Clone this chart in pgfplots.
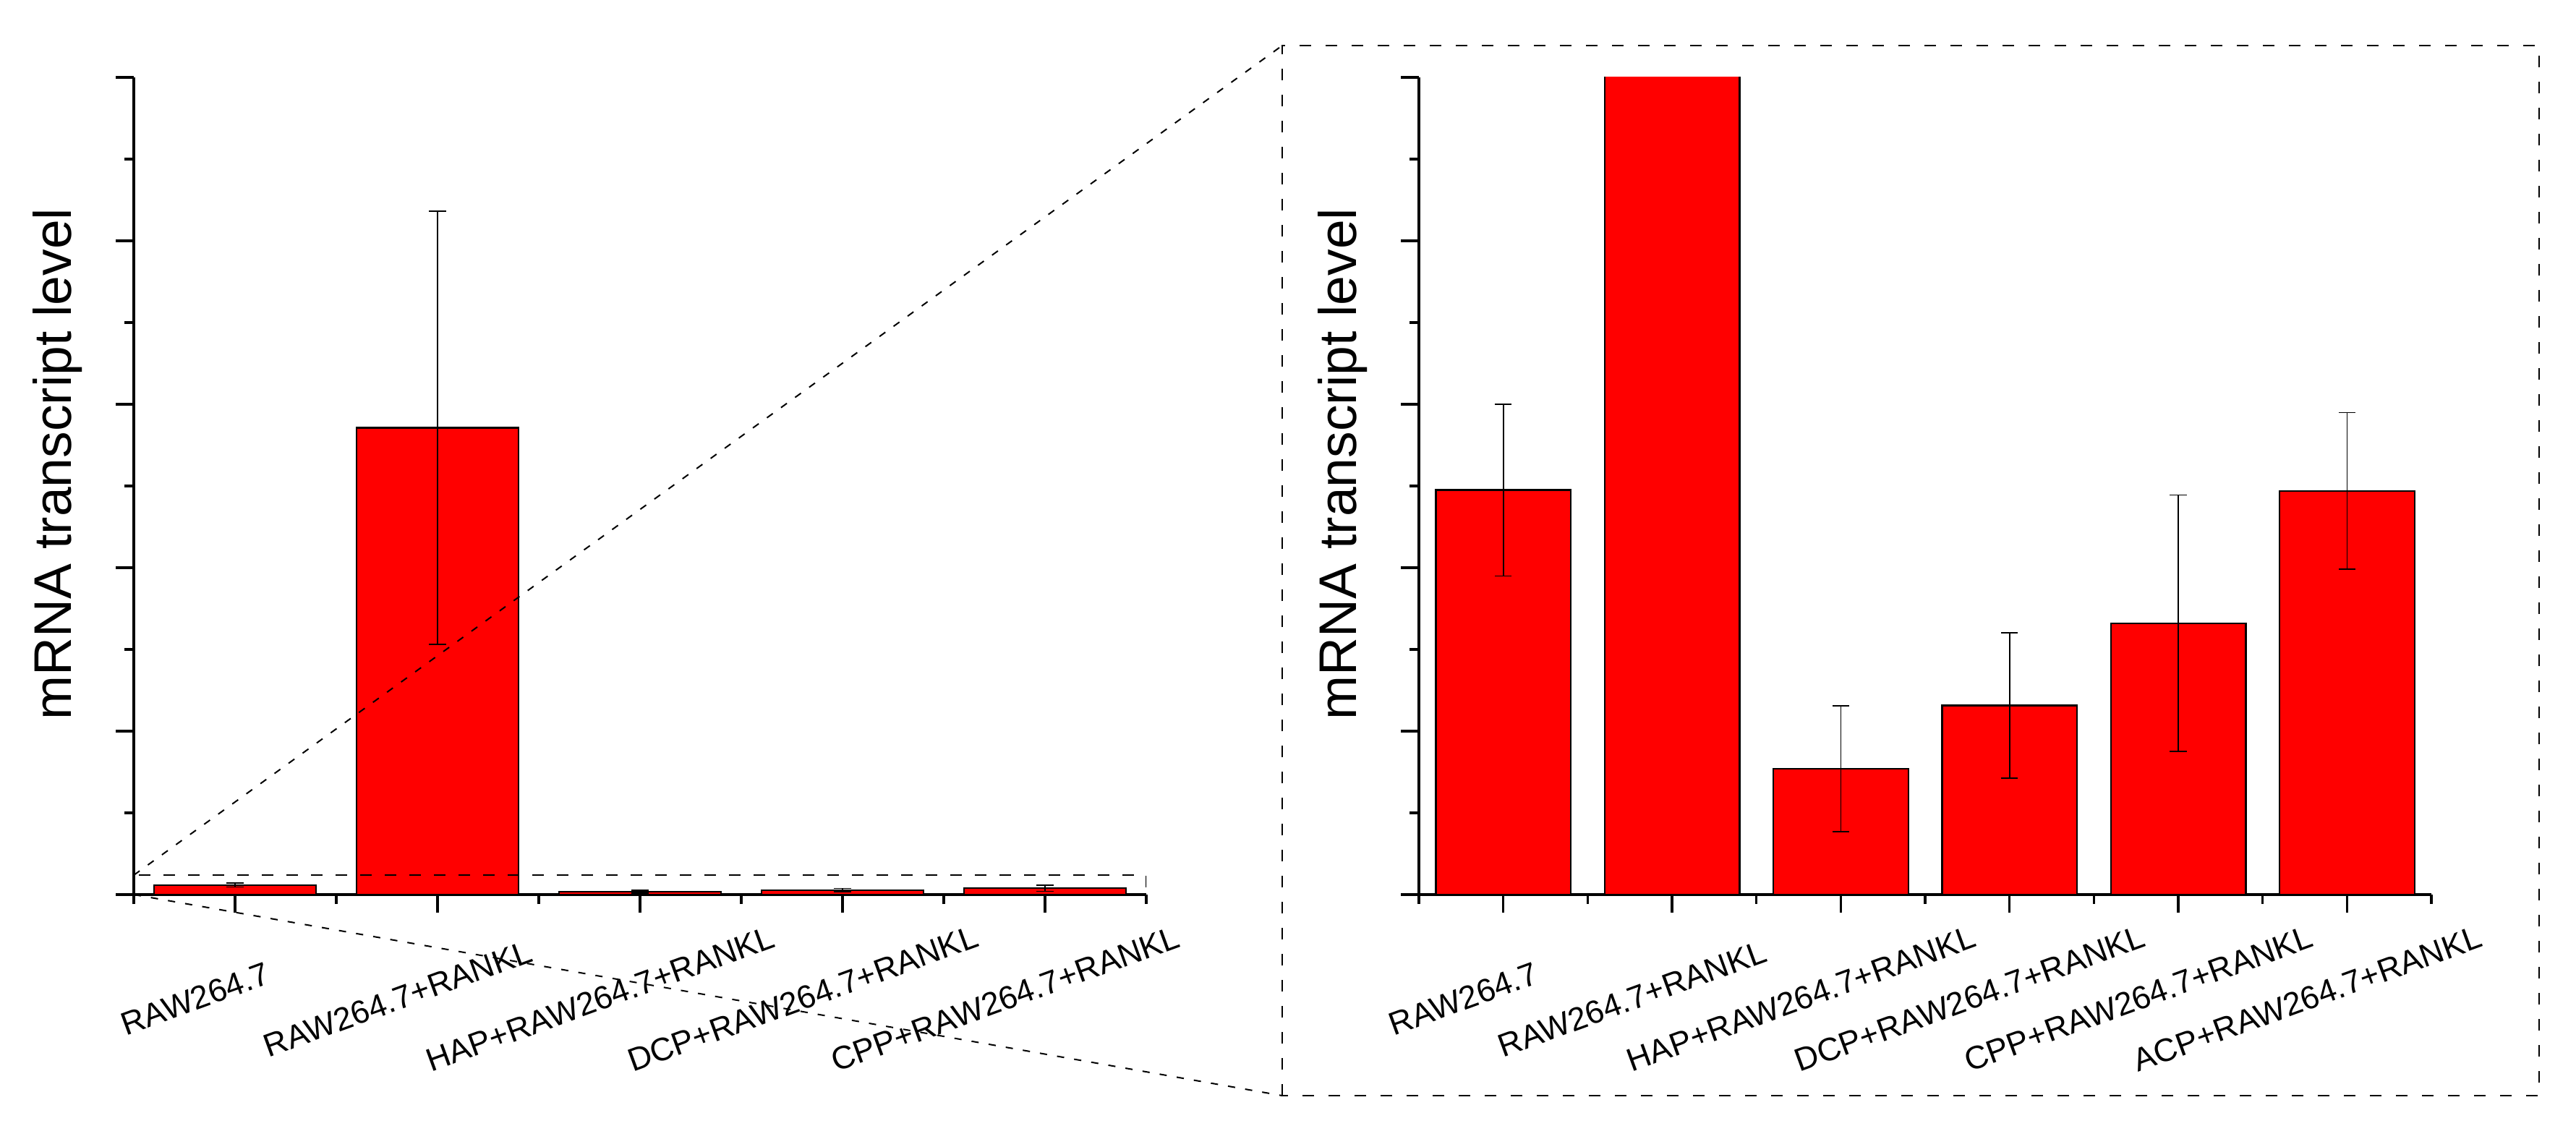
\documentclass[border=0pt]{standalone}
\usepackage{pgfplots}
\pgfplotsset{compat=1.18}
\usepackage{pgfplotstable}
\usepackage{fontspec}
\setmainfont{Liberation Sans}

\pgfplotstableread{
x y e
1 0.495 0.105
2 24.0 11.13
3 0.154 0.077
4 0.2315 0.089
5 0.332 0.157
}\leftdata

\pgfplotstableread{
x y e
1 0.495 0.105
2 24.0 11.13
3 0.154 0.077
4 0.2315 0.089
5 0.332 0.157
6 0.494 0.096
}\rightdata

\definecolor{barred}{RGB}{255,0,0}

\pgfplotsset{
  mystyle/.style={
    scale only axis,
    width=350pt, height=282.5pt,
    axis lines=left,
    axis line style={-, line width=0.85pt, black},
    enlargelimits=false,
    tick align=outside,
    major tick length=6.25pt,
    minor tick length=3.25pt,
    every tick/.style={black, line width=0.85pt},
    ymin=0,
    yticklabels={},
    minor y tick num=1,
    xticklabel style={font=\fontsize{11.2}{13.5}\selectfont, xshift=-13.75pt, yshift=-29.75pt, rotate=20, anchor=center},
    ylabel={mRNA transcript level},
    ylabel style={font=\fontsize{18.3}{22}\selectfont, at={(axis description cs:-0.0753,0.527)}, anchor=center},
  },
  mybar/.style={
    ybar, bar width=0.8, fill=barred, draw=black, line width=0.6pt,
    error bars/.cd, y dir=both, y explicit,
    error bar style={line width=0.4pt, black},
    error mark options={rotate=90, mark size=2.9pt, line width=0.4pt, black},
  },
}

\begin{document}
\begin{tikzpicture}
\useasboundingbox (0,0) rectangle (890.5pt,389pt);

\begin{axis}[mystyle,
  at={(46.25pt,79.75pt)}, anchor=south west,
  xmin=0.5, xmax=5.5, ymax=42,
  xtick={1,2,3,4,5},
  minor xtick={0.5,1.5,2.5,3.5,4.5,5.5},
  ytick={0,8.4,16.8,25.2,33.6,42},
  xticklabels={RAW264.7, RAW264.7+RANKL, HAP+RAW264.7+RANKL, DCP+RAW264.7+RANKL, CPP+RAW264.7+RANKL},
]
\addplot[mybar] table[x=x, y=y, y error=e] {\leftdata};
\draw[black, line width=0.55pt, dash pattern=on 4pt off 4.5pt] (axis cs:0.5,0) rectangle (axis cs:5.5,1);
\coordinate (LT) at (axis cs:0.5,1);
\coordinate (LB) at (axis cs:0.5,0);
\end{axis}

\begin{axis}[mystyle,
  at={(490.5pt,79.75pt)}, anchor=south west,
  xmin=0.5, xmax=6.5, ymax=1,
  xtick={1,2,3,4,5,6},
  minor xtick={0.5,1.5,2.5,3.5,4.5,5.5,6.5},
  ytick={0,0.2,0.4,0.6,0.8,1.0},
  xticklabels={RAW264.7, RAW264.7+RANKL, HAP+RAW264.7+RANKL, DCP+RAW264.7+RANKL, CPP+RAW264.7+RANKL, ACP+RAW264.7+RANKL},
]
\addplot[mybar] table[x=x, y=y, y error=e] {\rightdata};
\end{axis}

\draw[black, line width=0.6pt, dash pattern=on 4pt off 5pt] (443.25pt,10.25pt) rectangle (877.75pt,373.25pt);
\draw[black, line width=0.5pt, dash pattern=on 2.5pt off 3.5pt] (LT) -- (443.25pt,373.25pt);
\draw[black, line width=0.5pt, dash pattern=on 2.5pt off 3.5pt] (LB) -- (443.25pt,10.25pt);
\end{tikzpicture}
\end{document}
